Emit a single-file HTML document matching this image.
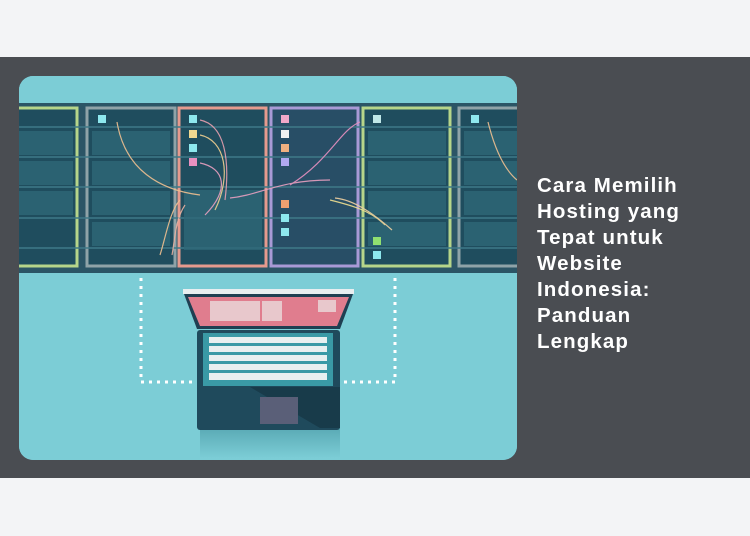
<!DOCTYPE html>
<html><head><meta charset="utf-8"><style>
html,body{margin:0;padding:0;width:750px;height:536px;background:#f3f4f6;overflow:hidden;font-family:"Liberation Sans",sans-serif}
.band{position:absolute;left:0;top:57px;width:750px;height:421px;background:#4a4d52}
.img{position:absolute;left:19px;top:76px;width:498px;height:384px;border-radius:14px;overflow:hidden;background:#7ccdd6}
.t{position:absolute;left:537px;top:173px;color:#fff;font-weight:bold;font-size:20.5px;letter-spacing:1.1px;line-height:26px}
</style></head><body>
<div class="band"></div>
<div class="img">
<svg width="498" height="384" viewBox="19 76 498 384" xmlns="http://www.w3.org/2000/svg">
<defs><linearGradient id="sh" x1="0" y1="0" x2="0" y2="1"><stop offset="0" stop-color="#5aaab5"/><stop offset="1" stop-color="#7ccdd6"/></linearGradient></defs>
<rect x="19" y="76" width="498" height="384" fill="#7ccdd6"/>
<rect x="19" y="103" width="498" height="170" fill="#2b5566"/>
<g id="racks">
<rect x="10" y="108" width="67" height="158" fill="#1f4d5e" stroke="#b6d58a" stroke-width="3"/>
<rect x="87" y="108" width="88" height="158" fill="#1f4d5e" stroke="#8fa3a8" stroke-width="3"/>
<rect x="179" y="108" width="87" height="158" fill="#1f4d5e" stroke="#e59a8e" stroke-width="3"/>
<rect x="271" y="108" width="87" height="158" fill="#284e66" stroke="#a99ad6" stroke-width="3"/>
<rect x="363" y="108" width="87" height="158" fill="#1f4d5e" stroke="#b6d58a" stroke-width="3"/>
<rect x="459" y="108" width="70" height="158" fill="#1f4d5e" stroke="#8fa3a8" stroke-width="3"/>
</g>
<g fill="none" stroke="#3f7a88" stroke-width="1.5">
<path d="M10 127H517M10 157H517M10 187H517M10 218H517M10 248H517"/>
</g>
<g fill="#2f6878" opacity="0.8">
<rect x="92" y="131" width="78" height="24"/><rect x="92" y="161" width="78" height="24"/><rect x="92" y="191" width="78" height="24"/><rect x="92" y="222" width="78" height="24"/>
<rect x="368" y="131" width="78" height="24"/><rect x="368" y="161" width="78" height="24"/><rect x="368" y="191" width="78" height="24"/><rect x="368" y="222" width="78" height="24"/>
<rect x="19" y="131" width="54" height="24"/><rect x="19" y="161" width="54" height="24"/><rect x="19" y="191" width="54" height="24"/>
<rect x="464" y="131" width="53" height="24"/><rect x="464" y="161" width="53" height="24"/><rect x="464" y="191" width="53" height="24"/><rect x="464" y="222" width="53" height="24"/>
<rect x="184" y="190" width="78" height="60"/>
</g>
<g>
<rect x="98" y="115" width="8" height="8" fill="#8ee8ee"/>
<rect x="189" y="115" width="8" height="8" fill="#8ee8ee"/><rect x="189" y="130" width="8" height="8" fill="#f0d890"/><rect x="189" y="144" width="8" height="8" fill="#8ee8ee"/><rect x="189" y="158" width="8" height="8" fill="#e890c0"/>
<rect x="281" y="115" width="8" height="8" fill="#f0a8c8"/><rect x="281" y="130" width="8" height="8" fill="#f0f0f0"/><rect x="281" y="144" width="8" height="8" fill="#f0b080"/><rect x="281" y="158" width="8" height="8" fill="#b0a8f0"/>
<rect x="281" y="200" width="8" height="8" fill="#f0a070"/><rect x="281" y="214" width="8" height="8" fill="#8ee8ee"/><rect x="281" y="228" width="8" height="8" fill="#8ee8ee"/>
<rect x="373" y="115" width="8" height="8" fill="#c0e8e8"/><rect x="373" y="237" width="8" height="8" fill="#90e070"/><rect x="373" y="251" width="8" height="8" fill="#8ee8ee"/>
<rect x="471" y="115" width="8" height="8" fill="#8ee8ee"/>
</g>
<g fill="none" stroke-width="1.2" opacity="0.9">
<path d="M117 122C125 170 160 190 200 195" stroke="#f0c090"/>
<path d="M200 120C225 125 230 160 225 200" stroke="#e8a0b0"/>
<path d="M200 135C225 140 232 175 215 210" stroke="#f0d090"/>
<path d="M200 163C225 168 230 190 205 215" stroke="#e8a0c0"/>
<path d="M360 122C340 130 330 160 290 185" stroke="#e890c0"/>
<path d="M180 200C170 210 165 240 160 255" stroke="#f0c090"/>
<path d="M185 205C175 220 175 240 172 255" stroke="#e8b0a0"/>
<path d="M330 200C350 205 370 210 385 225" stroke="#f0e090"/>
<path d="M335 198C355 200 375 215 392 230" stroke="#f0d0a0"/>
<path d="M230 198C260 195 280 180 330 180" stroke="#e8a0c0"/>
<path d="M488 122C495 150 505 170 517 180" stroke="#f0c090"/>
</g>
<g fill="none" stroke="#ffffff" stroke-width="3" stroke-dasharray="3 5">
<path d="M141 278V382H195"/><path d="M395 278V382H342"/>
</g>
<rect x="200" y="428" width="140" height="30" fill="url(#sh)"/>
<rect x="183" y="289" width="171" height="5" fill="#e8eef0"/>
<path d="M184 294H353L340 329H197Z" fill="#1f3f52"/>
<path d="M188 297H349L337 326H200Z" fill="#e07d8e"/>
<rect x="210" y="301" width="50" height="20" fill="#e8c8cc"/><rect x="262" y="301" width="20" height="20" fill="#e8c8cc"/><rect x="318" y="300" width="18" height="12" fill="#e8c8cc"/>
<rect x="197" y="330" width="143" height="100" rx="3" fill="#1f4a5c"/>
<path d="M250 387H340V428L320 428Z" fill="#183b4a"/>
<rect x="203" y="333" width="130" height="53" fill="#3a9aa6"/>
<g fill="#e8f0f0">
<rect x="209" y="337" width="118" height="6"/><rect x="209" y="346" width="118" height="6"/><rect x="209" y="355" width="118" height="6"/><rect x="209" y="364" width="118" height="6"/><rect x="209" y="373" width="118" height="7"/>
</g>
<rect x="260" y="397" width="38" height="27" fill="#5a5f78"/>
</svg>
</div>
<div class="t">Cara Memilih<br>Hosting yang<br>Tepat untuk<br>Website<br>Indonesia:<br>Panduan<br>Lengkap</div>
</body></html>
